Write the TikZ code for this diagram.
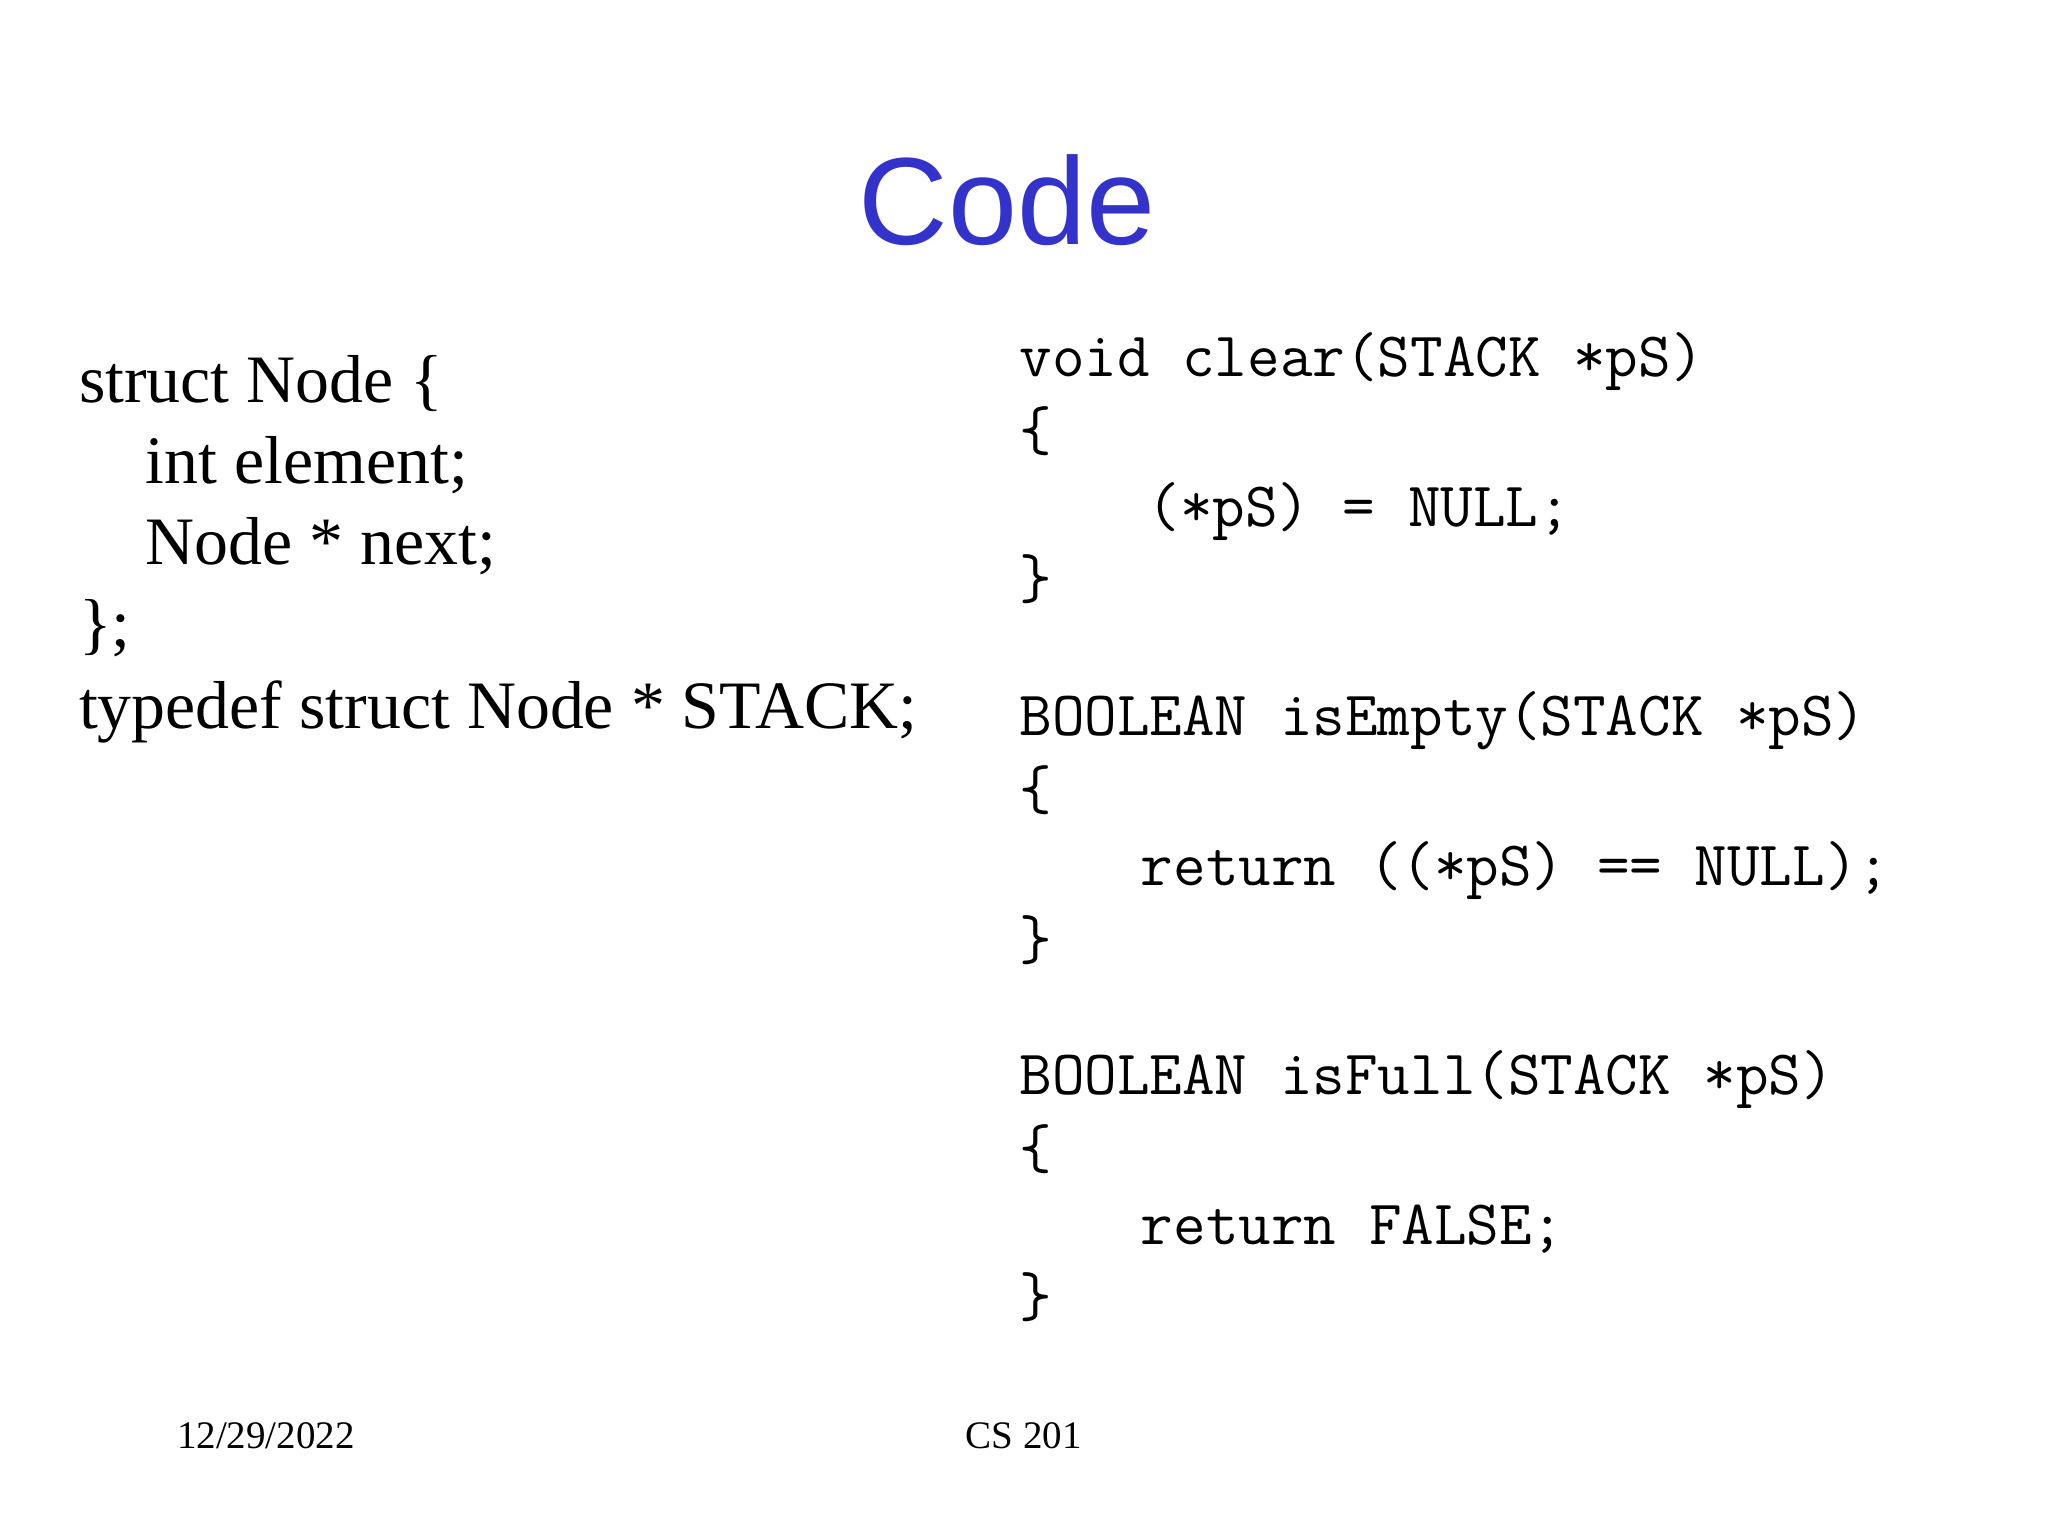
\documentclass[tikz,border=0pt]{standalone}
\usepackage{fontspec}
\setmainfont{Liberation Serif}
\newfontfamily\titlefont{Liberation Sans}
\setmonofont{Latin Modern Mono}
\definecolor{titleblue}{RGB}{51,51,204}
\begin{document}
\begin{tikzpicture}[x=0.01306cm,y=-0.01306cm,
  lt/.style={anchor=base west,inner sep=0,font=\fontsize{19.3}{22}\selectfont},
  ct/.style={anchor=base west,inner sep=0,font=\ttfamily\fontsize{18}{20}\selectfont},
  ft/.style={anchor=base west,inner sep=0,font=\fontsize{11.1}{13}\selectfont}]
\fill[white] (0,0) rectangle (1568,1176);
\node[anchor=base,inner sep=0,text=titleblue,font=\titlefont\fontsize{35.3}{38}\selectfont] (title) at (771,187) {Code};
\node[lt] (l1) at (60,308) {struct Node \{};
\node[lt] (l2) at (111,370) {int element;};
\node[lt] (l3) at (111,432) {Node * next;};
\node[lt] (l4) at (60,495) {\};};
\node[lt] (l5) at (60,558) {typedef struct Node * STACK;};
\node[ct] (c1) at (780,288) {void clear(STACK *pS)};
\node[ct] (c2) at (780,345) {\{};
\node[ct] (c3) at (878,403) {(*pS) = NULL;};
\node[ct] (c4) at (780,458) {\}};
\node[ct] (c5) at (780,563) {BOOLEAN isEmpty(STACK *pS)};
\node[ct] (c6) at (780,620) {\{};
\node[ct] (c7) at (873,678) {return ((*pS) == NULL);};
\node[ct] (c8) at (780,735) {\}};
\node[ct] (c9) at (780,838) {BOOLEAN isFull(STACK *pS)};
\node[ct] (c10) at (780,895) {\{};
\node[ct] (c11) at (873,953) {return FALSE;};
\node[ct] (c12) at (780,1008) {\}};
\node[ft] (date) at (135,1109) {12/29/2022};
\node[ft] (cs) at (739,1109) {CS 201};
\end{tikzpicture}
\end{document}
